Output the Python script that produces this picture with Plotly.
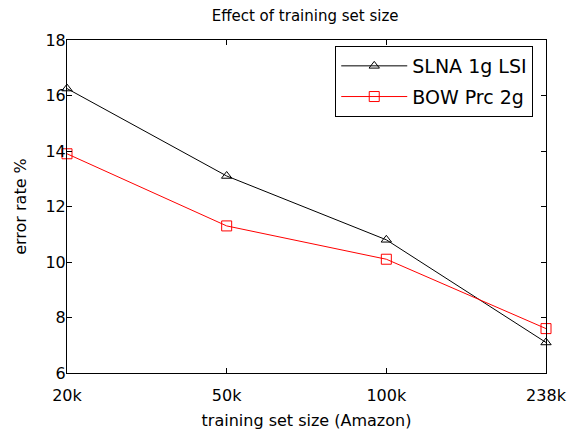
import plotly.graph_objects as go

categories = ["20k", "50k", "100k", "238k"]
slna_values = [16.25, 13.1, 10.8, 7.1]
bow_values = [13.9, 11.3, 10.1, 7.6]
y_ticks = [6, 8, 10, 12, 14, 16, 18]

xpos = list(range(len(categories)))
font = "DejaVu Sans"

fig = go.Figure()
fig.add_trace(go.Scatter(
    x=xpos, y=slna_values, mode="lines+markers", name="SLNA 1g LSI",
    legendgroup="a",
    line=dict(color="black", width=1),
    marker=dict(symbol="triangle-up-open", size=9, color="black", line=dict(width=1)),
    cliponaxis=False,
))
fig.add_trace(go.Scatter(
    x=xpos, y=bow_values, mode="lines+markers", name="BOW Prc 2g",
    legendgroup="b",
    line=dict(color="red", width=1),
    marker=dict(symbol="square-open", size=10, color="red", line=dict(width=1)),
    cliponaxis=False,
))

axis_common = dict(
    showline=True, linecolor="black", linewidth=1, mirror="ticks",
    ticks="inside", ticklen=5, tickcolor="black", tickwidth=1,
    showgrid=False, zeroline=False, automargin=False,
    tickfont=dict(family=font, size=16, color="black"),
)

fig.update_layout(
    width=578, height=431,
    margin=dict(l=59, r=40, t=32, b=66),
    paper_bgcolor="white", plot_bgcolor="white",
    font=dict(family=font, color="black"),
    title=dict(text="Effect of training set size", x=0.514, xanchor="center",
               y=0.981, yanchor="middle", font=dict(family=font, size=15, color="black")),
    xaxis=dict(range=[0, 3], tickvals=xpos, ticktext=categories,
               title=dict(text="training set size (Amazon)", font=dict(family=font, size=16), standoff=10),
               ticklabelstandoff=8, **axis_common),
    yaxis=dict(range=[6, 18], tickvals=y_ticks,
               title=dict(text="error rate %", font=dict(family=font, size=16), standoff=14),
               ticklabelstandoff=-3, **axis_common),
    legend=dict(x=0.56, y=0.982, xanchor="left", yanchor="top",
                bordercolor="black", borderwidth=1, bgcolor="white",
                font=dict(family=font, size=19, color="black"),
                itemwidth=66, tracegroupgap=3, traceorder="grouped"),
)

fig.write_html("out.html")
